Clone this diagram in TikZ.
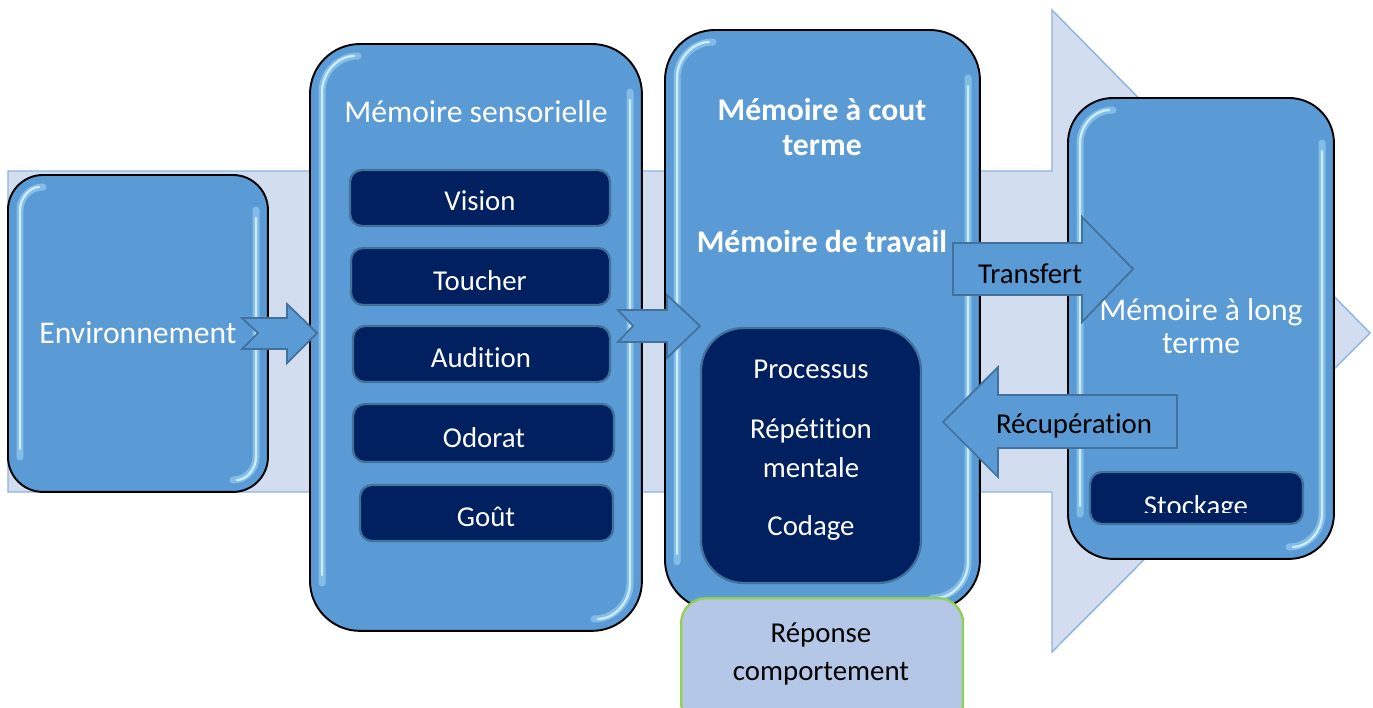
\documentclass[tikz,border=0pt]{standalone}
\usepackage{fontspec}
\setmainfont[Ligatures=NoCommon]{Carlito}
\definecolor{bgfill}{HTML}{D2DDEF}
\definecolor{bgline}{HTML}{8DB4E2}
\definecolor{mainfill}{HTML}{5B9BD5}
\definecolor{navy}{HTML}{002060}
\definecolor{steel}{HTML}{41719C}
\definecolor{lightfill}{HTML}{B4C7E7}
\definecolor{lgreen}{HTML}{92D050}
\definecolor{glintc}{HTML}{CDEEFF}
\definecolor{glintb}{HTML}{9FD3F7}
\newcommand{\boxglint}[5]{%
  \draw[glintsoft] ({#1+12},{#4-#5}) -- ({#1+12},{#2+#5}) .. controls ({#1+12},{#2+12+(#5-12)*0.45}) and ({#1+12+(#5-12)*0.45},{#2+12}) .. ({#1+#5},{#2+12});
  \draw[glintline] ({#1+12},{#4-#5-8}) -- ({#1+12},{#2+#5}) .. controls ({#1+12},{#2+12+(#5-12)*0.45}) and ({#1+12+(#5-12)*0.45},{#2+12}) .. ({#1+#5-4},{#2+12});
  \draw[glintsoft] ({#3-12},{#2+#5}) -- ({#3-12},{#4-#5}) .. controls ({#3-12},{#4-12-(#5-12)*0.45}) and ({#3-12-(#5-12)*0.45},{#4-12}) .. ({#3-#5},{#4-12});
  \draw[glintline] ({#3-12},{#2+#5+8}) -- ({#3-12},{#4-#5}) .. controls ({#3-12},{#4-12-(#5-12)*0.45}) and ({#3-12-(#5-12)*0.45},{#4-12}) .. ({#3-#5+4},{#4-12});
}
\begin{document}
\begin{tikzpicture}[x=0.02cm,y=-0.02cm,
  mainbox/.style={draw=black, line width=1.1pt, fill=mainfill, inner sep=0pt, outer sep=0pt, anchor=north west},
  navybox/.style={draw=steel, line width=1.3pt, fill=navy, rounded corners=0.24cm, inner sep=0pt, outer sep=0pt, anchor=north west},
  blockarrow/.style={draw=steel, line width=1pt, fill=mainfill, line join=miter},
  glintline/.style={draw=glintc, line width=0.045cm, line cap=round},
  glintsoft/.style={draw=glintb, opacity=0.6, line width=0.14cm, line cap=round},
  wlabel/.style={text=white, font=\fontsize{16.4}{19}\selectfont, anchor=base, inner sep=0pt},
  blabel/.style={text=black, font=\fontsize{16.4}{19}\selectfont, anchor=base, inner sep=0pt},
  wtitle/.style={text=white, font=\fontsize{18}{20}\selectfont, anchor=base, inner sep=0pt},
  wbold/.style={text=white, font=\fontsize{18}{20}\selectfont\bfseries, anchor=base, inner sep=0pt}]
\clip (0,0) rectangle (1373,707);
% background process arrow
\draw[fill=bgfill, draw=bgline, line width=0.8pt, line join=miter]
  (8,171) -- (1052,171) -- (1052,10) -- (1370,333) -- (1052,652) -- (1052,492) -- (8,492) -- cycle;
% main boxes
\node[mainbox, rounded corners=0.7cm, minimum width=5.2cm, minimum height=6.34cm] (env) at (8,175) {};
\node[mainbox, rounded corners=1.0cm, minimum width=6.64cm, minimum height=11.74cm] (sens) at (310,44) {};
\node[mainbox, rounded corners=1.0cm, minimum width=6.3cm, minimum height=11.6cm] (court) at (665,30) {};
\node[mainbox, rounded corners=0.9cm, minimum width=5.32cm, minimum height=9.22cm] (long) at (1068,98) {};
\boxglint{8}{175}{268}{492}{35}
\boxglint{310}{44}{642}{631}{48}
\boxglint{665}{30}{980}{610}{48}
\boxglint{1068}{98}{1334}{559}{45}
% texts of main boxes
\node[wtitle] (envT) at (138,343) {Environnement};
\node[wtitle] (sensT) at (476,122) {Mémoire sensorielle};
\node[wbold] (courtT1) at (822,120) {Mémoire à cout};
\node[wbold] (courtT2) at (822,155) {terme};
\node[wbold] (travT) at (822,252) {Mémoire de travail};
\node[wtitle] (longT1) at (1201,320) {Mémoire à long};
\node[wtitle] (longT2) at (1201,353) {terme};
% senses
\node[navybox, minimum width=5.2cm, minimum height=1.12cm] (vision) at (350,170) {};
\node[navybox, minimum width=5.18cm, minimum height=1.14cm] (toucher) at (351,248) {};
\node[navybox, minimum width=5.14cm, minimum height=1.12cm] (audition) at (353,326) {};
\node[navybox, minimum width=5.22cm, minimum height=1.16cm] (odorat) at (353,404) {};
\node[navybox, minimum width=5.06cm, minimum height=1.12cm] (gout) at (360,485) {};
\node[wlabel] (visionT) at (480,210) {Vision};
\node[wlabel] (toucherT) at (480,290) {Toucher};
\node[wlabel] (auditionT) at (481,367) {Audition};
\node[wlabel] (odoratT) at (484,447) {Odorat};
\node[wlabel] (goutT) at (486,526) {Goût};
% processes
\node[navybox, rounded corners=0.85cm, minimum width=4.4cm, minimum height=5.1cm] (proc) at (701,328) {};
\node[wlabel] (procT1) at (811,378) {Processus};
\node[wlabel] (procT2) at (811,438) {Répétition};
\node[wlabel] (procT3) at (811,477) {mentale};
\node[wlabel] (procT4) at (811,535) {Codage};
% storage
\node[navybox, minimum width=4.26cm, minimum height=1.04cm] (stock) at (1090,472) {};
\begin{scope}
  \clip (1090,472) rectangle (1303,512);
  \node[wlabel] (stockT) at (1196,515) {Stockage};
\end{scope}
% block arrows
\draw[blockarrow] (242,318) -- (287,318) -- (287,304) -- (317,333) -- (287,363) -- (287,349) -- (242,349) -- (258,333) -- cycle;
\draw[blockarrow] (618,310) -- (667,310) -- (667,295) -- (700,326) -- (667,358) -- (667,342) -- (618,342) -- (633,326) -- cycle;
\draw[blockarrow] (953,243) -- (1082,243) -- (1082,217) -- (1133,269) -- (1082,322) -- (1082,295) -- (953,295) -- cycle;
\node[blabel] (transT) at (1030,283) {Transfert};
\draw[blockarrow] (1177,395) -- (998,395) -- (998,367) -- (943,422) -- (998,477) -- (998,448) -- (1177,448) -- cycle;
\node[blabel] (recupT) at (1074,433) {Récupération};
% response
\node[draw=lgreen, line width=1.3pt, fill=lightfill, rounded corners=0.5cm, inner sep=0pt, anchor=north west, minimum width=5.64cm, minimum height=2.6cm] (rep) at (680,597) {};
\node[blabel] (repT1) at (821,642) {Réponse};
\node[blabel] (repT2) at (821,680) {comportement};
\end{tikzpicture}
\end{document}
